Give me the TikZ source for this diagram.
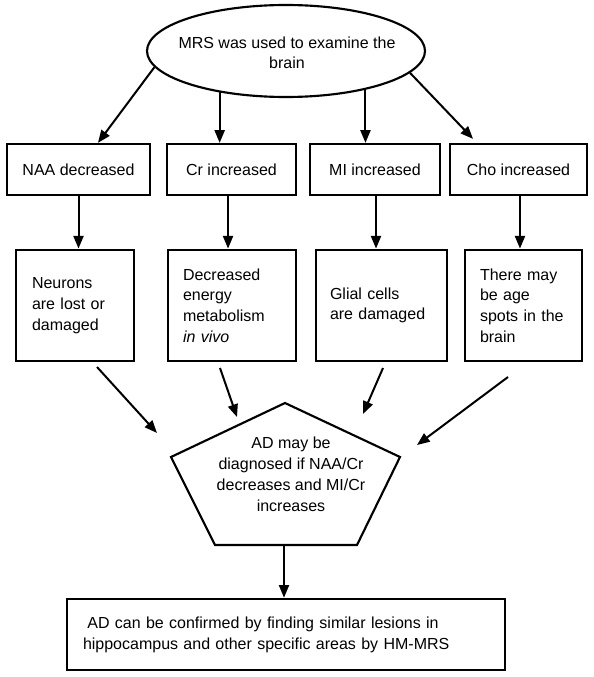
\documentclass[tikz,border=0pt]{standalone}
\usepackage{fontspec}
\setmainfont{Liberation Sans}
\usetikzlibrary{arrows.meta,shapes.geometric}
\begin{document}
\begin{tikzpicture}[x=0.75pt,y=-0.75pt,
  arr/.style={line width=1.5pt,-{Triangle[length=9.5pt,width=7.5pt]}},
  box1/.style={draw,line width=1.7pt,minimum height=38.25pt,inner sep=0pt,
    font=\fontsize{12pt}{15pt}\selectfont},
  box2/.style={draw,line width=2.1pt,minimum height=83.25pt,align=left,inner ysep=0pt,
    font=\fontsize{12pt}{15.5pt}\selectfont},
  txt/.style={align=center,inner sep=0pt,font=\fontsize{12pt}{15.5pt}\selectfont},
]
\useasboundingbox (0,0) rectangle (593,677);

% top ellipse
\node[draw,ellipse,line width=1.6pt,minimum width=208.5pt,minimum height=69pt,inner sep=0pt] (mrs) at (286,51) {};
\node[txt,font=\fontsize{12pt}{15pt}\selectfont] (mrstext) at (287,53) {MRS was used to examine the\\brain};

% first row
\node[box1,minimum width=107.25pt] (naa) at (78.5,169.5) {NAA decreased};
\node[box1,minimum width=96.75pt] (cr) at (231.5,169.5) {Cr increased};
\node[box1,minimum width=97.5pt] (mi) at (375,169.5) {MI increased};
\node[box1,minimum width=102.75pt] (cho) at (518.5,169.5) {Cho increased};

% second row
\node[box2,text width=64.5pt,inner xsep=12pt] (neu) at (75,305.5) {Neurons\\are lost or\\damaged};
\node[box2,text width=73.5pt,inner xsep=11.25pt] (dec) at (232,305.5) {Decreased\\energy\\metabolism\\\textit{in vivo}};
\node[box2,text width=77.25pt,inner xsep=10.5pt] (gli) at (381.5,305.5) {Glial cells\\are damaged};
\node[box2,text width=65.25pt,inner xsep=11.25pt] (spo) at (523.5,305.5) {There may\\be age\\spots in the\\brain};

% pentagon
\coordinate (pa) at (285,403);
\coordinate (pur) at (400,457);
\coordinate (pbr) at (357,545);
\coordinate (pbl) at (215,545);
\coordinate (pul) at (171,457);
\draw[line width=1.6pt,line join=miter] (pa) -- (pur) -- (pbr) -- (pbl) -- (pul) -- cycle;
\node[txt,font=\fontsize{12pt}{15.75pt}\selectfont] (adtext) at (291,474) {AD may be\\diagnosed if NAA/Cr\\decreases and MI/Cr\\increases};

% bottom box
\node[draw,line width=1.9pt,minimum height=53.25pt,text width=304.5pt,inner xsep=12pt,inner ysep=0pt,align=left,
  font=\fontsize{12pt}{15.75pt}\selectfont] (conf) at (286,634.5)
  {\hspace*{3.3pt}AD can be confirmed by finding similar lesions in\\hippocampus and other specific areas by HM-MRS\par\vspace{6pt}};

% arrows from ellipse
\draw[arr] (mrs.187) -- ([xshift=14.6pt]naa.north);
\draw[arr] (mrs.212.6) -- (mrs.212.6 |- cr.north);
\draw[arr] (mrs.334.8) -- (mrs.334.8 |- mi.north);
\draw[arr] (mrs.350.6) -- ([xshift=-34.1pt,yshift=3pt]cho.north);

% first row to second row
\draw[arr] (naa.south) -- (naa.south |- neu.north);
\draw[arr] ([xshift=-2.6pt]cr.south) -- ([xshift=-2.6pt]cr.south |- dec.north);
\draw[arr] ([xshift=0.75pt]mi.south) -- ([xshift=0.75pt]mi.south |- gli.north);
\draw[arr] ([xshift=1.1pt]cho.south) -- ([xshift=1.1pt]cho.south |- spo.north);

% second row to pentagon
\coordinate (s1) at (97,367);
\coordinate (e1) at (157,433);
\coordinate (s2) at (220,368);
\coordinate (e2) at (237,417);
\coordinate (s3) at (383,368);
\coordinate (e3) at (363,414);
\coordinate (s4) at (508,377);
\coordinate (e4) at (417,445);
\draw[arr] (s1) -- (e1);
\draw[arr] (s2) -- (e2);
\draw[arr] (s3) -- (e3);
\draw[arr] (s4) -- (e4);

% pentagon to bottom box
\coordinate (pb) at (284,545);
\draw[arr] (pb) -- (pb |- conf.north);
\end{tikzpicture}
\end{document}
